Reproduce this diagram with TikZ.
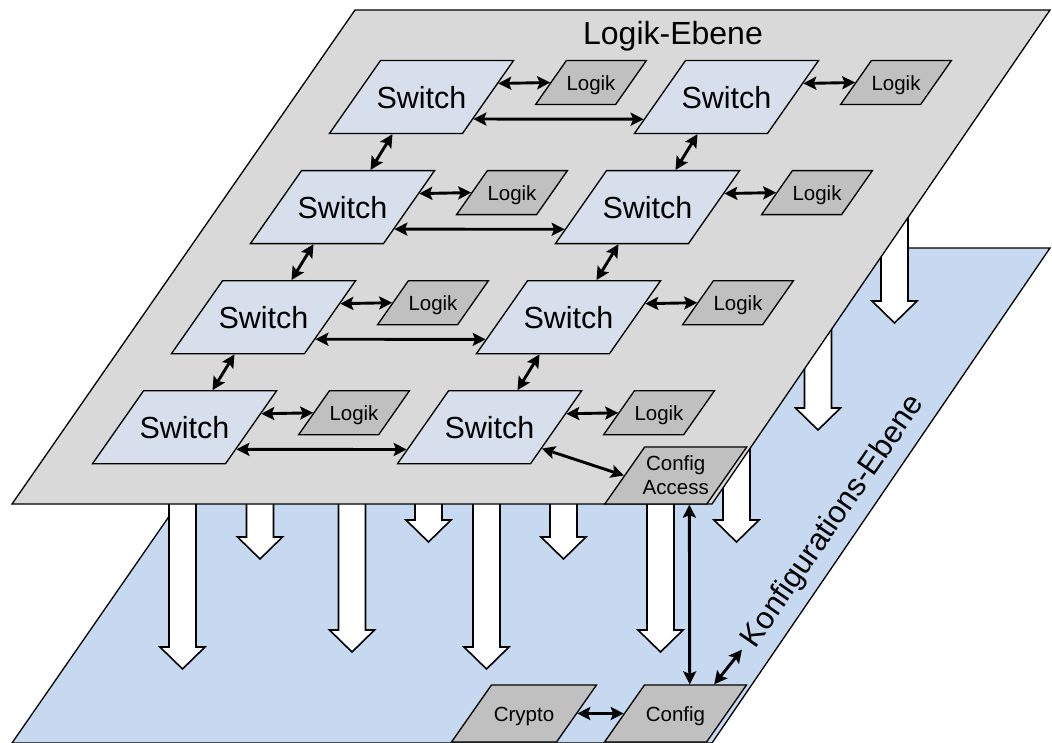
\documentclass[tikz,border=0pt]{standalone}
\usepackage{fontspec}
\setmainfont{Liberation Sans}
\usetikzlibrary{shapes.geometric,arrows.meta}

\definecolor{planegray}{HTML}{D9D9D9}
\definecolor{planeblue}{HTML}{C6D9F0}
\definecolor{switchfill}{HTML}{D6DFEB}
\definecolor{logikfill}{HTML}{C0C0C0}

% white block arrow pointing down: centre x, top y, tip y
\newcommand{\dropArrow}[3]{%
  \draw[blockarrow] ({#1-13.5},#2) -- ({#1+13.5},#2) -- ({#1+13.5},{#3-22})
    -- ({#1+22.5},{#3-22}) -- (#1,#3) -- ({#1-22.5},{#3-22})
    -- ({#1-13.5},{#3-22}) -- cycle;}

% the parallelogram is built round a text box of fixed size:
% side length = box width + 0.7 * box height
\tikzset{
  plane/.style={draw=black, line width=1.3pt, line join=miter},
  para/.style={trapezium, trapezium left angle=55, trapezium right angle=125,
    draw=black, line width=1.3pt, inner sep=0pt},
  switchbox/.style={para, fill=switchfill,
    font=\fontsize{30.5}{36}\selectfont, text height=47.5pt, text depth=25.5pt},
  logikbox/.style={para, fill=logikfill,
    font=\fontsize{20.5}{24}\selectfont, text height=29.5pt, text depth=14.5pt},
  cfgbox/.style={para, fill=logikfill,
    font=\fontsize{20.5}{24}\selectfont, text height=36pt, text depth=21pt},
  conn/.style={line width=2.9pt,
    {Stealth[length=13pt,width=13pt,inset=2.5pt]}-{Stealth[length=13pt,width=13pt,inset=2.5pt]}},
  blockarrow/.style={draw=black, fill=white, line width=1.6pt, line join=miter},
}

\begin{document}
\begin{tikzpicture}[x=1pt,y=-1pt]
\useasboundingbox (0,0) rectangle (1052,742);
\clip (0,0) rectangle (1052,742);

% lower plane
\draw[plane, fill=planeblue] (12,743) -- (355,248) -- (1050,248) -- (712,743) -- cycle;

% block arrows from the upper plane down to the lower one
\dropArrow{182.5}{495}{669}
\dropArrow{260}{495}{559}
\dropArrow{352}{495}{652}
\dropArrow{428.5}{495}{542}
\dropArrow{486.5}{495}{669}
\dropArrow{563.5}{495}{559}
\dropArrow{660.5}{495}{652}
\dropArrow{736.5}{420}{542}
\dropArrow{818}{250}{430}
\dropArrow{894.5}{150}{323}

% upper plane
\draw[plane, fill=planegray] (12,504) -- (355,10) -- (1050,10) -- (712,504) -- cycle;
\node[font=\fontsize{32}{38}\selectfont, text height=23pt, text depth=0pt] (le) at (673,32.5) {Logik-Ebene};

% switch grid with attached logic blocks
\foreach \r in {1,...,4}{
  \foreach \c in {1,2}{
    \node[switchbox] (s\r\c) at ({421.5-79*(\r-1)+305*(\c-1)}, {97+110.1*(\r-1)}) {\makebox[81.9pt]{Switch}};
    \node[logikbox] (l\r\c) at ({591-79*(\r-1)+305*(\c-1)}, {82.5+110.1*(\r-1)}) {\makebox[49.2pt]{Logik}};
    \draw[conn] (s\r\c.10.7) -- (l\r\c.180);
  }
  \draw[conn] (s\r1.-23.3) -- (s\r2.195);
}
\foreach \r [evaluate=\r as \n using int(\r+1)] in {1,2,3}{
  \foreach \c in {1,2}{
    \draw[conn] (s\r\c.232) -- (s\n\c.53.5);
  }
}

\node[cfgbox, text height=47pt, text depth=10pt] (ca) at (675.75,475.5)
  {\makebox[62.1pt]{Access}\llap{\makebox[62.1pt]{\raisebox{24pt}{Config}}}};
\draw[conn] (s42.-22.7) -- (ca.180);

% lower plane contents
\node[cfgbox] (cry) at (524,713.5) {\makebox[65.1pt]{Crypto}};
\node[cfgbox] (cfg) at (675.5,713.5) {\makebox[62.1pt]{Config}};
\node[rotate=55.5, inner sep=8pt, font=\fontsize{31}{36}\selectfont,
      text height=22pt, text depth=0pt] (kfg) at (831,520) {Konfigurations-Ebene};

\draw[conn] (cry.0) -- (cfg.180);
\draw[conn] (ca.-65) -- (cfg.64.7);
\draw[conn] (cfg.37.2) -- (kfg.west);
\end{tikzpicture}
\end{document}
